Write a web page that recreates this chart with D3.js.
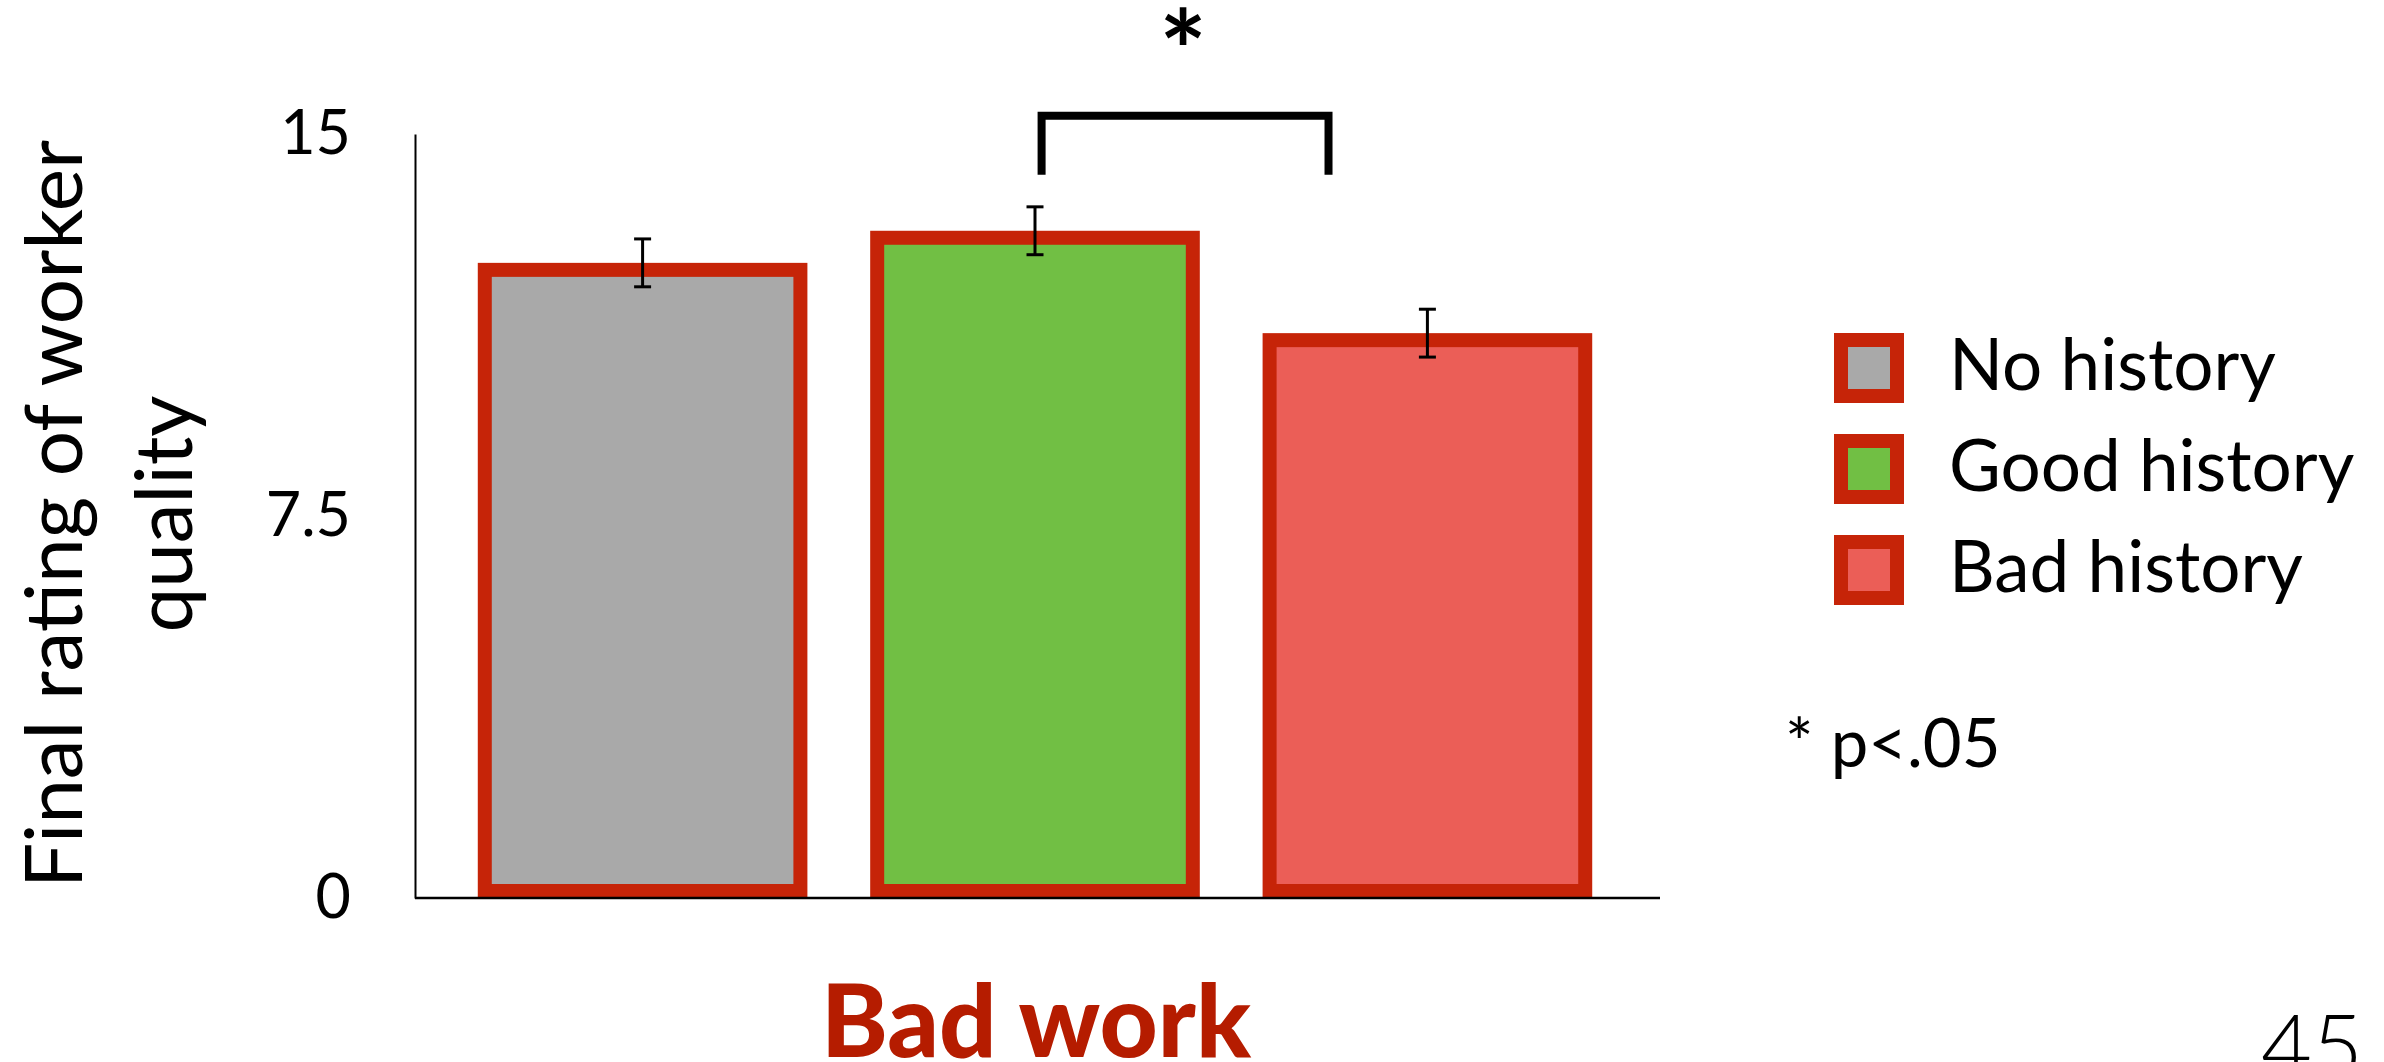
<!DOCTYPE html>
<html>
<head>
<meta charset="utf-8">
<script src="https://cdn.jsdelivr.net/npm/d3@7"></script>
<style>
  body { margin: 0; background: #fff; }
  text { font-family: Lato, "Open Sans", sans-serif; fill: #000; }
</style>
</head>
<body>
<div class="container"></div>
<script>
// Data
var categories = ["No history", "Good history", "Bad history"];
var ratings = [12.47, 13.1, 11.09];
var errors = [0.47, 0.47, 0.47];
var fills = ["#a9a9a9", "#71bf44", "#eb5e57"];
var yTicks = [0, 7.5, 15];
var yTickLabels = ["0", "7.5", "15"];

// significance bracket (in data units / fraction of the band)
var sigFrom = "Good history";
var sigFromPos = 0.52;
var sigTo = "Bad history";
var sigToPos = 0.2;
var sigTop = 15.36;
var sigBottom = 14.2;

var svgWidth = 2384;
var svgHeight = 1062;

var margin = { top: 134, left: 415, bottom: 164 };
var axisEnd = 1660;

var svg = d3.select(".container")
  .append("svg")
  .attr("width", svgWidth)
  .attr("height", svgHeight);

var border = "#c62408";
var strokeW = 14;

// scales
var yScale = d3.scaleLinear()
  .domain([0, 15])
  .range([svgHeight - margin.bottom, margin.top]);

var xScale = d3.scaleBand()
  .domain(categories)
  .range([margin.left, 1655])
  .paddingInner(0.16)
  .paddingOuter(0.16);

var rows = categories.map(function(c, i) {
  return { cat: c, value: ratings[i], err: errors[i], fill: fills[i] };
});

// bars
svg.append("g")
  .selectAll("rect")
  .data(rows)
  .enter()
  .append("rect")
  .attr("x", d => xScale(d.cat) + strokeW / 2)
  .attr("y", d => yScale(d.value) + strokeW / 2)
  .attr("width", xScale.bandwidth() - strokeW)
  .attr("height", d => yScale(0) - yScale(d.value) - strokeW)
  .attr("fill", d => d.fill)
  .attr("stroke", border)
  .attr("stroke-width", strokeW);

// error bars
var errG = svg.append("g")
  .attr("stroke", "#000")
  .attr("stroke-width", 3);

rows.forEach(function(d) {
  var cx = xScale(d.cat) + xScale.bandwidth() / 2;
  var y1 = yScale(d.value + d.err);
  var y2 = yScale(d.value - d.err);
  errG.append("line").attr("x1", cx).attr("x2", cx).attr("y1", y1).attr("y2", y2);
  errG.append("line").attr("x1", cx - 8.5).attr("x2", cx + 8.5).attr("y1", y1).attr("y2", y1);
  errG.append("line").attr("x1", cx - 8.5).attr("x2", cx + 8.5).attr("y1", y2).attr("y2", y2);
});

// y axis: line + labels only
var leftAxis = d3.axisLeft(yScale)
  .tickValues(yTicks)
  .tickFormat((d, i) => yTickLabels[i])
  .tickSize(0)
  .tickPadding(64);

var yAxis = svg.append("g")
  .attr("transform", `translate(${margin.left}, 0)`)
  .call(leftAxis);

yAxis.select(".domain")
  .attr("stroke", "#000")
  .attr("stroke-width", 2);

yAxis.selectAll("text")
  .style("font-family", "Lato, sans-serif")
  .style("font-size", "61px")
  .attr("fill", "#000");

// x baseline
svg.append("line")
  .attr("x1", margin.left)
  .attr("x2", axisEnd)
  .attr("y1", yScale(0))
  .attr("y2", yScale(0))
  .attr("stroke", "#000")
  .attr("stroke-width", 2.5);

// y axis title (two lines)
var yTitle = svg.append("text")
  .attr("transform", "rotate(-90)")
  .attr("text-anchor", "middle")
  .style("font-size", "80px");

yTitle.append("tspan")
  .attr("x", -514)
  .attr("y", 82)
  .text("Final rating of worker");

yTitle.append("tspan")
  .attr("x", -514)
  .attr("y", 192)
  .text("quality");

// x category label
svg.append("text")
  .attr("x", 1036)
  .attr("y", 1057)
  .attr("text-anchor", "middle")
  .style("font-size", "101px")
  .style("font-weight", "900")
  .style("fill", "#b51c00")
  .text("Bad work");

// significance bracket
var bx1 = xScale(sigFrom) + xScale.bandwidth() * sigFromPos;
var bx2 = xScale(sigTo) + xScale.bandwidth() * sigToPos;

svg.append("path")
  .attr("d", `M${bx1},${yScale(sigBottom)} V${yScale(sigTop)} H${bx2} V${yScale(sigBottom)}`)
  .attr("fill", "none")
  .attr("stroke", "#000")
  .attr("stroke-width", 8);

svg.append("text")
  .attr("x", (bx1 + bx2) / 2 - 2)
  .attr("y", 92)
  .attr("text-anchor", "middle")
  .style("font-size", "112px")
  .style("font-weight", "700")
  .text("*");

// legend
var legend = svg.append("g")
  .attr("transform", "translate(1841, 340)");

var legendRows = legend.selectAll("g")
  .data(rows)
  .enter()
  .append("g")
  .attr("transform", (d, i) => `translate(0, ${i * 101})`);

legendRows.append("rect")
  .attr("width", 56)
  .attr("height", 56)
  .attr("fill", d => d.fill)
  .attr("stroke", border)
  .attr("stroke-width", 14);

legendRows.append("text")
  .attr("x", 108)
  .attr("y", 50)
  .style("font-size", "71px")
  .text(d => d.cat);

// footnote
svg.append("text")
  .attr("x", 1785)
  .attr("y", 767)
  .style("font-size", "67px")
  .text("* p<.05");

// slide number
svg.append("text")
  .attr("x", 2261)
  .attr("y", 1078)
  .style("font-size", "88px")
  .style("font-weight", "300")
  .text("45");
</script>
</body>
</html>
